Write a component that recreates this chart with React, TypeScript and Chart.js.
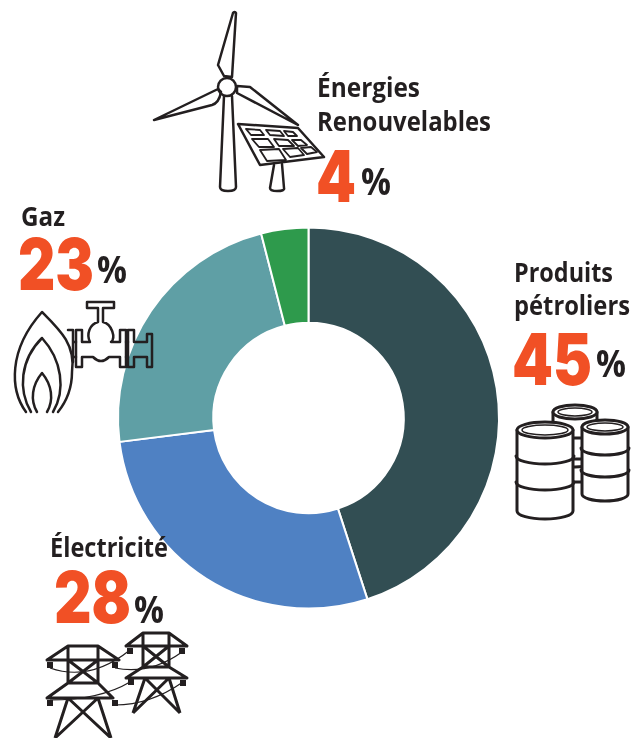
import React, { useEffect, useRef } from "react";
import { Chart, registerables } from "chart.js";

Chart.register(...registerables);

const categories = ["Produits pétroliers", "Électricité", "Gaz", "Énergies Renouvelables"];
const values = [45, 28, 23, 4];
const sliceColors = ["#324e53", "#4f81c3", "#5f9fa5", "#2e9a4c"];

const INK = "#231f20";
const ORANGE = "#f15025";
const LABEL_FONT = "'Open Sans', sans-serif";
const NUM_FONT = "Inter, sans-serif";

function Label({ x, y, w, children }: { x: number; y: number; w: number; children: string }) {
  return (
    <text x={x} y={y} textLength={w} lengthAdjust="spacingAndGlyphs" fontFamily={LABEL_FONT} fontWeight={700} fontSize={26} fill={INK}>
      {children}
    </text>
  );
}

function Big({ x, y, w, children }: { x: number; y: number; w: number; children: string }) {
  return (
    <text x={x} y={y} textLength={w} lengthAdjust="spacingAndGlyphs" fontFamily={NUM_FONT} fontWeight={900} fontSize={71} fill={ORANGE}>
      {children}
    </text>
  );
}

function Pct({ x, y }: { x: number; y: number }) {
  return (
    <text x={x} y={y} textLength={30} lengthAdjust="spacingAndGlyphs" fontFamily={LABEL_FONT} fontWeight={700} fontSize={37} fill={INK}>
      %
    </text>
  );
}

const line = { fill: "none", stroke: INK, strokeLinejoin: "round" as const, strokeLinecap: "round" as const };

function Turbine() {
  return (
    <g {...line} strokeWidth={2.5}>
      <path d="M233 13 Q235 11 236 13 L232 77 L224 76 L218 65 Z" />
      <path d="M154 120 L218 89 L221 92 Q219 103 212 105 Z" />
      <path d="M298 125 L250 87 L237 86 L237 93 Z" />
      <circle cx={227} cy={87} r={9} />
      <path d="M224 96 L220 187 Q220 191 228 191 Q236 191 236 187 L232 96" />
      <path d="M238 124 L298 128 L324 157 L260 165 Z" />
      <g strokeWidth={1.8}>
        <path d="M246 129 L260 130 L264 135 L251 135 Z" />
        <path d="M266 130 L280 131 L284 136 L270 135 Z" />
        <path d="M284 131 L293 132 L297 136 L288 136 Z" />
        <path d="M252 139 L268 139 L274 147 L259 147 Z" />
        <path d="M274 139 L288 140 L294 146 L279 146 Z" />
        <path d="M292 140 L301 140 L307 145 L298 146 Z" />
        <path d="M260 150 L279 149 L286 160 L267 161 Z" />
        <path d="M283 149 L298 148 L304 155 L290 157 Z" />
        <path d="M301 148 L311 147 L317 152 L307 154 Z" />
      </g>
      <path d="M274 165 L270 188 Q270 191 277 191 Q285 191 284 188 L282 164" />
    </g>
  );
}

function GasValve() {
  return (
    <g {...line} strokeWidth={2.5}>
      <path d="M26 412 C10 390 8 350 42 312 C60 330 76 345 72 372 C72 390 66 402 58 412" />
      <path d="M31 412 C18 390 20 360 42 338 C62 360 66 390 53 412" />
      <path d="M37 412 C30 400 32 385 42 373 C52 385 54 400 47 412" />
      <path d="M87 302 H114 V308 H103 V322 C112 324 116 338 111 342 H120 V330 H126 V367 H120 V357 H109 Q101 365 93 357 H82 V367 H76 V330 H82 V342 H90 C86 334 90 324 98 322 V308 H87 Z" />
      <path d="M68 330 H73 V362 M73 342 H76 M73 357 H76" />
      <path d="M126 342 H128 M126 357 H128" />
      <path d="M128 330 H134 V342 H147 V334 H152 V367 H147 V357 H134 V367 H128 Z" />
    </g>
  );
}

function Barrel({ cx, top, rx, ry, bottom, ribs }: { cx: number; top: number; rx: number; ry: number; bottom: number; ribs: number[] }) {
  return (
    <g>
      <path d={`M${cx - rx} ${top} V${bottom} A${rx} ${ry} 0 0 0 ${cx + rx} ${bottom} V${top}`} fill="#fff" />
      <ellipse cx={cx} cy={top} rx={rx} ry={ry} fill="#fff" />
      <ellipse cx={cx} cy={top} rx={rx - 5} ry={ry - 3} strokeWidth={1.5} />
      {ribs.map((r) => (
        <path key={r} d={`M${cx - rx - 1} ${r} A${rx + 1} ${ry} 0 0 0 ${cx + rx + 1} ${r}`} />
      ))}
    </g>
  );
}

function Barrels() {
  return (
    <g {...line} strokeWidth={3}>
      <Barrel cx={575} top={412} rx={22} ry={7} bottom={460} ribs={[]} />
      <path d="M573 438 H582 M573 459 H582 M573 482 H582" />
      <Barrel cx={545} top={430} rx={28} ry={8} bottom={511} ribs={[456, 482]} />
      <Barrel cx={605} top={427} rx={23} ry={7} bottom={494} ribs={[448, 470]} />
    </g>
  );
}

function Towers() {
  return (
    <g {...line} strokeWidth={3} strokeLinecap="butt">
      <path d="M68 646 H98 L119 660 H47 Z M68 646 V683 M98 646 V683 M68 660 L98 683 M98 660 L68 683 M68 683 H98 L113 698 H47 Z M68 698 L55 738 M98 698 L111 738 M68 698 L111 738 M98 698 L55 738" />
      <path d="M143 633 H169 L187 646 H126 Z M143 633 V667 M169 633 V667 M143 646 L169 667 M169 646 L143 667 M143 667 H169 L187 678 H126 Z M145 678 L133 713 M169 678 L180 713 M145 678 L180 713 M169 678 L133 713" />
      <g strokeWidth={1.2}>
        <path d="M50 668 Q90 682 130 650" />
        <path d="M115 668 Q150 675 182 652" />
        <path d="M50 700 Q100 700 130 682" />
        <path d="M115 705 Q150 705 183 682" />
      </g>
      <g fill={INK} stroke="none">
        <rect x={47} y={662} width={6} height={6} />
        <rect x={112} y={662} width={6} height={6} />
        <rect x={47} y={700} width={6} height={6} />
        <rect x={112} y={700} width={6} height={6} />
        <rect x={127} y={648} width={6} height={6} />
        <rect x={179} y={648} width={6} height={6} />
        <rect x={128} y={679} width={6} height={6} />
        <rect x={180} y={680} width={6} height={6} />
      </g>
    </g>
  );
}

export default function App() {
  const ref = useRef<HTMLCanvasElement | null>(null);

  useEffect(() => {
    document.body.style.margin = "0";
    const chart = new Chart(ref.current as HTMLCanvasElement, {
      type: "doughnut",
      data: {
        labels: categories,
        datasets: [{ data: values, backgroundColor: sliceColors, borderColor: "#ffffff", borderWidth: 2 }],
      },
      options: {
        animation: false,
        responsive: false,
        cutout: "50%",
        layout: { padding: { left: 117, top: 226.5, right: 131, bottom: 128.5 } },
        plugins: { legend: { display: false }, tooltip: { enabled: false } },
      },
    });
    return () => chart.destroy();
  }, []);

  return (
    <div style={{ position: "relative", width: 631, height: 738, background: "#fff", overflow: "hidden" }}>
      <canvas ref={ref} width={631} height={738} style={{ position: "absolute", left: 0, top: 0 }} />
      <svg width={631} height={738} style={{ position: "absolute", left: 0, top: 0 }}>
        <Turbine />
        <GasValve />
        <Barrels />
        <Towers />

        <Label x={317} y={97} w={103}>Énergies</Label>
        <Label x={317} y={131} w={174}>Renouvelables</Label>
        <Big x={316} y={202} w={40}>{String(values[3])}</Big>
        <Pct x={361} y={195} />

        <Label x={21} y={226} w={44}>Gaz</Label>
        <Big x={18} y={290} w={76}>{String(values[2])}</Big>
        <Pct x={97} y={283} />

        <Label x={514} y={282} w={99}>Produits</Label>
        <Label x={514} y={315} w={116}>pétroliers</Label>
        <Big x={512} y={385} w={80}>{String(values[0])}</Big>
        <Pct x={596} y={377} />

        <Label x={50} y={557} w={118}>Électricité</Label>
        <Big x={54} y={623} w={77}>{String(values[1])}</Big>
        <Pct x={134} y={623} />
      </svg>
    </div>
  );
}
